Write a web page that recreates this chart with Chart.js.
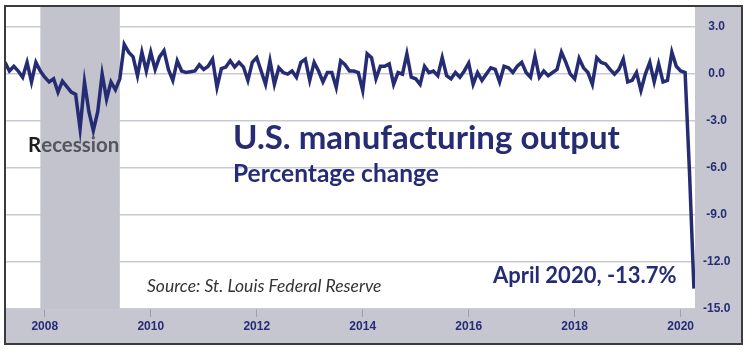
<!DOCTYPE html>
<html>
<head>
<meta charset="utf-8">
<title>U.S. manufacturing output</title>
<script src="https://cdn.jsdelivr.net/npm/chart.js@4/dist/chart.umd.min.js"></script>
<style>
  html, body { margin: 0; padding: 0; background: #fff; }
  #wrap { width: 750px; height: 351px; }
</style>
</head>
<body>
<div id="wrap"><canvas id="mfgChart" width="750" height="351"></canvas></div>
<script>
(function () {
    "use strict";

    // Monthly % change, starting April 2007
    var startYear = 2007;
    var startMonth = 4;
    var mfgChange = [
        0.75, 0.2, 0.5, 0.2, -0.2, 0.75, -0.5, 0.75, 0.2,
        -0.2, -0.5, -0.3, -1.15, -0.45, -0.8, -1.15, -1.3, -3.5, -0.5, -2.4, -3.6,
        -2.4, 0.0, -1.6, -0.5, -1.0, -0.3, 1.9, 1.4, 1.1, -0.1, 1.4, 0.2,
        1.4, 0.3, 1.1, 1.5, 0.3, -0.4, 0.85, 0.2, 0.1, 0.15, 0.2, 0.6,
        0.3, 0.5, 0.95, -0.85, 0.35, 0.45, 0.85, 0.45, 0.75, 0.45, -0.4, 0.75,
        1.05, 0.2, -0.65, 0.85, -0.65, 0.4, 0.1, 0.0, 0.2, -0.2, 0.75, 0.95,
        -0.4, 0.75, 0.2, -0.5, 0.1, 0.1, -0.85, 0.85, 0.6, 0.2, 0.2, 0.1,
        -1.05, 1.3, 1.05, -0.3, 0.5, 0.5, 0.65, -0.65, 0.1, 0.0, 1.3, -0.2,
        -0.3, -0.65, 0.5, 0.1, 0.2, -0.1, 1.05, -0.1, -0.3, 0.1, -0.2, 0.2,
        0.7, -0.65, 0.1, -0.4, 0.0, 0.4, 0.3, -0.5, 0.5, 0.4, 0.1, 0.5,
        0.75, 0.1, -0.2, 1.15, -0.2, 0.2, -0.1, 0.1, 0.3, 1.4, 0.75, 0.0,
        -0.3, 1.0, 0.4, 0.1, -0.65, 1.05, 0.75, 0.65, 0.3, 0.0, 0.3, 0.95,
        -0.5, -0.4, 0.1, -1.05, 0.0, 0.75, -0.5, 0.65, -0.5, -0.4, 1.4, 0.5,
        0.2, 0.1, -6.3, -13.7
    ];
    var xTickYears = [2008, 2010, 2012, 2014, 2016, 2018, 2020];
    var yTickValues = [3, 0, -3, -6, -9, -12, -15];
    var recession = [2007 + 11 / 12, 2009 + 5 / 12];   // Dec 2007 - Jun 2009

    var navy = "#262c74";

    var points = mfgChange.map(function (v, i) {
        return { x: startYear + (startMonth - 1 + i) / 12, y: v };
    });

    // Grey axis bands, recession shading, frame and annotations
    var decorations = {
        id: "decorations",
        beforeDraw: function (chart) {
            var ctx = chart.ctx, a = chart.chartArea;
            ctx.save();
            ctx.fillStyle = "#ffffff";
            ctx.fillRect(0, 0, chart.width, chart.height);
            ctx.fillStyle = "#c6c6d1";
            ctx.fillRect(a.right, a.top, 47, a.bottom - a.top + 35);
            ctx.fillRect(a.left, a.bottom, a.right - a.left + 47, 35);
            ctx.restore();
        },
        beforeDatasetsDraw: function (chart) {
            var ctx = chart.ctx, a = chart.chartArea, xs = chart.scales.x;
            var x1 = xs.getPixelForValue(recession[0]);
            var x2 = xs.getPixelForValue(recession[1]);
            ctx.save();
            ctx.fillStyle = "#c3c3cd";
            ctx.fillRect(x1, a.top, x2 - x1, a.bottom - a.top);
            ctx.restore();
        },
        afterDraw: function (chart) {
            var ctx = chart.ctx, a = chart.chartArea;
            ctx.save();
            ctx.strokeStyle = "#3b3b3f";
            ctx.lineWidth = 2;
            ctx.strokeRect(a.left, a.top, a.right - a.left + 47, a.bottom - a.top + 35);

            ctx.textBaseline = "alphabetic";
            ctx.fillStyle = navy;
            ctx.font = "bold 33px Lato";
            ctx.fillText("U.S. manufacturing output", 233, 149);
            ctx.font = "bold 24.5px Lato";
            ctx.fillText("Percentage change", 233, 182);
            ctx.font = "bold 22px Lato";
            ctx.fillText("April 2020, -13.7%", 493, 283);

            ctx.font = "bold 20.5px Lato";
            ctx.fillStyle = "#1e1e1e";
            ctx.fillText("R", 28, 152);
            var rw = ctx.measureText("R").width;
            ctx.fillStyle = "#55555c";
            ctx.fillText("ecession", 28 + rw, 152);

            ctx.font = "italic 17.5px Lato";
            ctx.fillStyle = "#333338";
            ctx.fillText("Source: St. Louis Federal Reserve", 147, 292);
            ctx.restore();
        }
    };

    var ctx = document.getElementById("mfgChart").getContext("2d");
    var mfgChart = new Chart(ctx, {
        type: "line",
        data: {
            datasets: [{
                label: "U.S. manufacturing output, % change",
                data: points,
                borderColor: navy,
                borderWidth: 3.5,
                pointRadius: 0,
                tension: 0,
                fill: false
            }]
        },
        options: {
            responsive: false,
            animation: false,
            layout: { padding: { left: 5, top: 6, right: 8, bottom: 7 } },
            plugins: {
                legend: { display: false },
                tooltip: { enabled: false }
            },
            scales: {
                x: {
                    type: "linear",
                    position: "bottom",
                    min: 2007.25,
                    max: 2020.27,
                    afterBuildTicks: function (axis) {
                        axis.ticks = xTickYears.map(function (v) { return { value: v }; });
                    },
                    afterFit: function (scale) {
                        scale.height = 35;
                        scale.paddingLeft = 0;
                        scale.paddingRight = 0;
                    },
                    ticks: {
                        callback: function (v) { return String(v); },
                        color: navy,
                        font: { family: "Liberation Sans", size: 12, weight: "bold" },
                        padding: 2,
                        maxRotation: 0,
                        autoSkip: false
                    },
                    grid: {
                        drawOnChartArea: false,
                        drawTicks: true,
                        tickLength: 8,
                        color: "#9c9cab",
                        lineWidth: 1
                    },
                    border: { display: false }
                },
                y: {
                    position: "right",
                    min: -15,
                    max: 4.35,
                    afterBuildTicks: function (axis) {
                        axis.ticks = yTickValues.map(function (v) { return { value: v }; });
                    },
                    afterFit: function (scale) {
                        scale.width = 47;
                        scale.paddingTop = 0;
                        scale.paddingBottom = 0;
                    },
                    ticks: {
                        callback: function (v) { return v.toFixed(1); },
                        color: navy,
                        font: { family: "Liberation Sans", size: 12, weight: "bold" },
                        crossAlign: "center",
                        padding: 8
                    },
                    grid: {
                        color: "#c9c9d3",
                        lineWidth: 1.5,
                        drawTicks: false
                    },
                    border: { display: false }
                }
            }
        },
        plugins: [decorations]
    });
})();
</script>
</body>
</html>
